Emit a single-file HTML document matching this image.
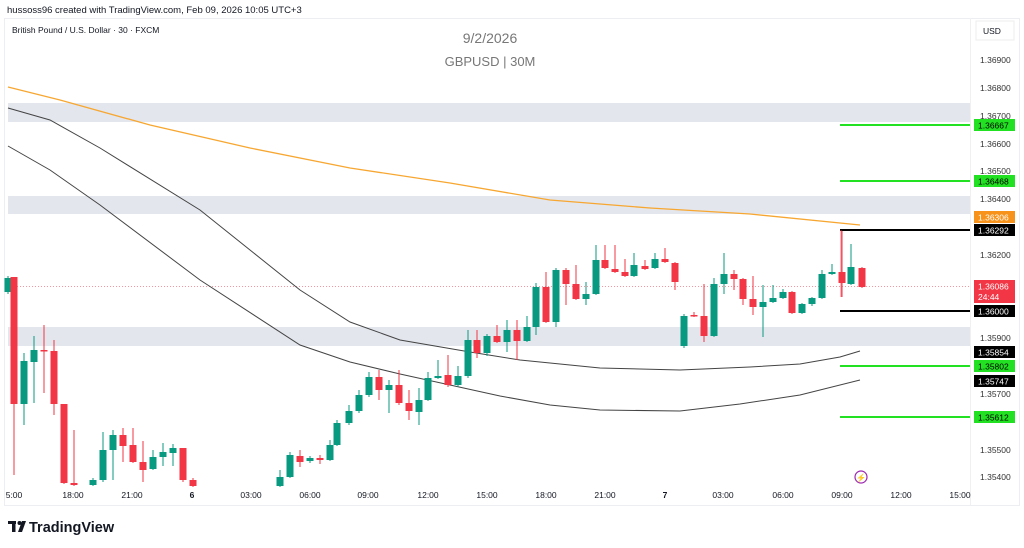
<!DOCTYPE html>
<html><head><meta charset="utf-8"><style>
html,body{margin:0;padding:0;background:#fff;width:1024px;height:548px;overflow:hidden}
svg{display:block;font-family:"Liberation Sans",sans-serif}
</style></head><body>
<svg id="s" width="1024" height="548" viewBox="0 0 1024 548" xmlns="http://www.w3.org/2000/svg">
<text x="7" y="13" font-size="9.5" fill="#131722">hussoss96 created with TradingView.com, Feb 09, 2026 10:05 UTC+3</text>
<rect x="4.5" y="18.5" width="1015" height="487" fill="none" stroke="#eceef2"/>
<line x1="970.5" y1="18" x2="970.5" y2="505" stroke="#f0f0f0"/>
<text x="12" y="33" font-size="8.5" fill="#131722">British Pound / U.S. Dollar · 30 · FXCM</text>
<text x="490" y="43" font-size="14" fill="#777" text-anchor="middle">9/2/2026</text>
<text x="490" y="66" font-size="13" fill="#777" text-anchor="middle">GBPUSD | 30M</text>
<rect x="976" y="21" width="38" height="19" fill="#fff" stroke="#eee"/>
<text x="983" y="34" font-size="8.5" fill="#131722">USD</text>
<rect x="8" y="103" width="962" height="19" fill="#e0e3eb" opacity="0.9"/>
<rect x="8" y="196" width="962" height="18" fill="#e0e3eb" opacity="0.9"/>
<rect x="8" y="327" width="962" height="19" fill="#e0e3eb" opacity="0.9"/>
<line x1="8" y1="286.5" x2="970" y2="286.5" stroke="#f23645" stroke-width="0.8" stroke-dasharray="1,2" opacity="0.7"/>
<polyline fill="none" stroke="#f7a731" stroke-width="1.3" points="8,87 60,100 150,125 250,148 350,168 450,183 550,200 650,208 750,214 860,225"/>
<polyline fill="none" stroke="#444" stroke-width="1" points="8,108 50,120 100,148 200,210 300,290 350,322 400,340 470,352 520,360 600,368 680,370 750,367 800,364 840,357 860,351"/>
<polyline fill="none" stroke="#444" stroke-width="1" points="8,146 50,170 100,205 200,280 300,345 350,362 400,374 450,385 500,396 550,405 600,410 680,411 740,404 800,395 860,380"/>
<g id="c"></g>
<g stroke-width="2">
<line x1="840" y1="125" x2="970" y2="125" stroke="#22e022"/>
<line x1="840" y1="181" x2="970" y2="181" stroke="#22e022"/>
<line x1="840" y1="366" x2="970" y2="366" stroke="#22e022"/>
<line x1="840" y1="417" x2="970" y2="417" stroke="#22e022"/>
<line x1="840" y1="230" x2="970" y2="230" stroke="#000"/>
<line x1="840" y1="311" x2="970" y2="311" stroke="#000"/>
</g>
<line x1="841" y1="230" x2="841" y2="297" stroke="#f23645" stroke-width="0.7"/>
<g font-size="8.5" fill="#333">
<text x="980" y="63">1.36900</text><text x="980" y="91">1.36800</text><text x="980" y="119">1.36700</text>
<text x="980" y="147">1.36600</text><text x="980" y="174">1.36500</text><text x="980" y="202">1.36400</text>
<text x="980" y="258">1.36200</text><text x="980" y="341">1.35900</text><text x="980" y="397">1.35700</text>
<text x="980" y="453">1.35500</text><text x="980" y="480">1.35400</text>
</g>
<g font-size="8.5">
<rect x="974" y="119" width="41" height="12" fill="#22e022"/><text x="978" y="128.5" fill="#000">1.36667</text>
<rect x="974" y="175" width="41" height="12" fill="#22e022"/><text x="978" y="184.5" fill="#000">1.36468</text>
<rect x="974" y="211" width="41" height="12" fill="#f7931a"/><text x="978" y="220.5" fill="#fff">1.36306</text>
<rect x="974" y="224" width="41" height="12" fill="#000"/><text x="978" y="233.5" fill="#fff">1.36292</text>
<rect x="974" y="280" width="41" height="23" fill="#f23645"/><text x="978" y="289.5" fill="#fff">1.36086</text><text x="978" y="300" fill="#fff">24:44</text>
<rect x="974" y="305" width="41" height="12" fill="#000"/><text x="978" y="314.5" fill="#fff">1.36000</text>
<rect x="974" y="346" width="41" height="12" fill="#000"/><text x="978" y="355.5" fill="#fff">1.35854</text>
<rect x="974" y="360" width="41" height="12" fill="#22e022"/><text x="978" y="369.5" fill="#000">1.35802</text>
<rect x="974" y="375" width="41" height="12" fill="#000"/><text x="978" y="384.5" fill="#fff">1.35747</text>
<rect x="974" y="411" width="41" height="12" fill="#22e022"/><text x="978" y="420.5" fill="#000">1.35612</text>
</g>
<circle cx="861" cy="477" r="6" fill="none" stroke="#9c27b0" stroke-width="1.2"/>
<text x="861" y="480.5" font-size="8" fill="#9c27b0" text-anchor="middle">⚡</text>
<g font-size="8.5" fill="#131722" text-anchor="middle">
<text x="14" y="498">5:00</text><text x="73" y="498">18:00</text><text x="132" y="498">21:00</text>
<text x="192" y="498" font-weight="bold">6</text><text x="251" y="498">03:00</text><text x="310" y="498">06:00</text>
<text x="368" y="498">09:00</text><text x="428" y="498">12:00</text><text x="487" y="498">15:00</text>
<text x="546" y="498">18:00</text><text x="605" y="498">21:00</text><text x="665" y="498" font-weight="bold">7</text>
<text x="723" y="498">03:00</text><text x="783" y="498">06:00</text><text x="842" y="498">09:00</text>
<text x="901" y="498">12:00</text><text x="960" y="498">15:00</text>
</g>
<g fill="#131722">
<rect x="8" y="521" width="8" height="3"/><rect x="12" y="521" width="3.5" height="11"/>
<circle cx="19.5" cy="523" r="2"/><polygon points="22,521 26,521 22,532 18,532"/>
</g>
<text x="29" y="532" font-size="14.5" font-weight="bold" fill="#131722">TradingView</text>
</svg>
<script>
var d=[[8,292,278,276,294],[14,277,404,277,475],[24,404,361,353,425],[34,362,350,336,403],[44,350,351,325,393],[54,351,404,340,415],[64,404,483,404,484],[74,483,485,430,486],[93,485,480,478,486],[103,480,450,432,482],[113,450,435,430,480],[123,435,446,428,462],[133,445,462,428,463],[143,462,470,441,482],[153,469,457,450,470],[163,457,452,443,466],[173,453,448,444,466],[183,448,480,448,482],[193,480,486,478,487],[280,486,477,470,487],[290,477,455,452,478],[300,456,462,450,467],[310,461,458,456,463],[320,458,460,455,464],[330,460,445,440,461],[337,445,423,420,446],[349,423,411,405,425],[359,411,395,390,413],[369,395,377,372,397],[379,377,390,370,400],[389,390,385,380,413],[399,385,403,370,405],[409,403,411,390,420],[419,412,400,388,425],[428,400,378,372,401],[438,378,376,360,379],[448,375,385,355,387],[458,385,376,366,387],[468,376,340,330,378],[477,340,353,330,358],[487,353,336,334,356],[497,336,342,325,343],[507,342,330,320,352],[517,330,341,320,360],[527,341,327,316,342],[536,327,287,283,335],[546,287,322,272,323],[556,322,270,268,327],[566,270,284,268,305],[576,284,299,265,300],[586,299,294,282,305],[596,294,260,245,295],[605,260,268,245,269],[615,269,272,245,273],[625,272,276,259,277],[634,276,265,253,277],[645,266,269,260,270],[655,268,259,253,269],[665,259,262,248,263],[675,263,282,262,290],[684,346,316,314,348],[694,315,316,312,317],[704,316,336,284,342],[714,336,284,278,337],[724,284,274,253,294],[734,274,279,270,290],[743,279,299,278,305],[753,299,307,276,315],[763,307,302,285,337],[773,302,298,285,303],[783,298,292,289,299],[792,292,313,291,314],[802,313,304,303,314],[812,304,298,297,306],[822,298,274,270,299],[832,274,272,264,275],[842,272,283,230,297],[851,284,267,244,285],[862,268,287,267,288]];
var g=document.getElementById('c'),h='';
d.forEach(function(c){var x=c[0],o=c[1],cl=c[2],col=cl<o?'#089981':'#f23645',t=Math.min(o,cl),b=Math.max(Math.abs(o-cl),1.5);
h+='<line x1="'+x+'" y1="'+c[3]+'" x2="'+x+'" y2="'+c[4]+'" stroke="'+col+'" stroke-width="1"/>';
h+='<rect x="'+(x-3.5)+'" y="'+t+'" width="7" height="'+b+'" fill="'+col+'"/>';});
g.innerHTML=h;
</script>
</body></html>
